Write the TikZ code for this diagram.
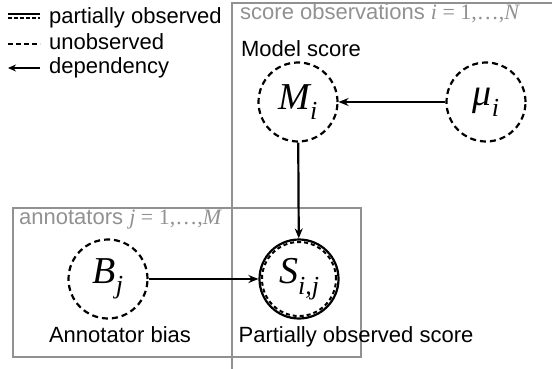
\documentclass[tikz,border=0pt]{standalone}
\usepackage{fontspec}
\setmainfont{Liberation Sans}
\newfontfamily\timesf{Liberation Serif}
\usetikzlibrary{arrows.meta}
\definecolor{plategray}{RGB}{145,145,145}
\newcommand\nodemath[2]{{\timesf\itshape #1}\raisebox{-0.28em}{\fontsize{26}{28}\selectfont\timesf\itshape #2}}
\newcommand\platemath[2]{{\timesf\itshape #1}{\timesf\ =\ 1,\ldots,}{\timesf\itshape #2}}
\begin{document}
\begin{tikzpicture}[x=1pt,y=-1pt,
  font=\fontsize{22}{26}\selectfont,
  plate/.style={draw=plategray, line width=1.3pt},
  latent/.style={circle, draw, line width=2.2pt, dash pattern=on 6pt off 4pt, minimum size=79pt, inner sep=0pt, font=\fontsize{38}{42}\selectfont},
  observed/.style={circle, draw, line width=2.2pt, minimum size=79pt, inner sep=0pt, font=\fontsize{38}{42}\selectfont},
  dep/.style={-{Stealth[length=10pt,width=8pt]}, line width=2.2pt},
  platelabel/.style={text=plategray, anchor=base west, inner sep=0pt},
  lbl/.style={anchor=base, inner sep=0pt},
  legtext/.style={anchor=base west, inner sep=0pt}]
\useasboundingbox (0,0) rectangle (552,369);
% plates
\draw[plate] (552,3) -- (232,3) -- (232,369);
\draw[plate] (13,208) rectangle (361,357);
\node[platelabel] (lscore) at (240,20) {score observations \platemath{i}{N}};
\node[platelabel] (lann) at (19,224) {annotators \platemath{j}{M}};
% nodes
\node[latent] (M) at (298,102) {\nodemath{M}{i}};
\node[latent] (mu) at (486,102) {\nodemath{μ}{i}};
\node[latent] (B) at (108,279) {\nodemath{B}{j}};
\node[observed] (S) at (299,279) {\nodemath{S}{i,j}};
\node[circle, draw, line width=2pt, dash pattern=on 4pt off 3pt, minimum size=74pt, inner sep=0pt] (Sin) at (S.center) {};
% labels
\node[lbl] (lM) at (301,57) {Model score};
\node[lbl] (lB) at (120,342) {Annotator bias};
\node[lbl] (lS) at (356,342) {Partially observed score};
% edges
\draw[dep] (mu) -- (M);
\draw[dep] (M) -- (S);
\draw[dep] (B) -- (S);
% legend
\coordinate (p1) at (8,14); \coordinate (p2) at (40,14);
\coordinate (p3) at (8,18); \coordinate (p4) at (40,18);
\draw[line width=2pt] (p1) -- (p2);
\draw[line width=2pt, dash pattern=on 4pt off 2pt] (p3) -- (p4);
\node[legtext] (t1) at (49,24) {partially observed};
\coordinate (u1) at (8,44); \coordinate (u2) at (40,44);
\draw[line width=2pt, dash pattern=on 5pt off 3pt] (u1) -- (u2);
\node[legtext] (t2) at (49,50) {unobserved};
\coordinate (d1) at (8,68); \coordinate (d2) at (40,68);
\draw[-{Stealth[length=8pt,width=7pt]}, line width=2pt] (d2) -- (d1);
\node[legtext] (t3) at (49,74) {dependency};
\end{tikzpicture}
\end{document}
